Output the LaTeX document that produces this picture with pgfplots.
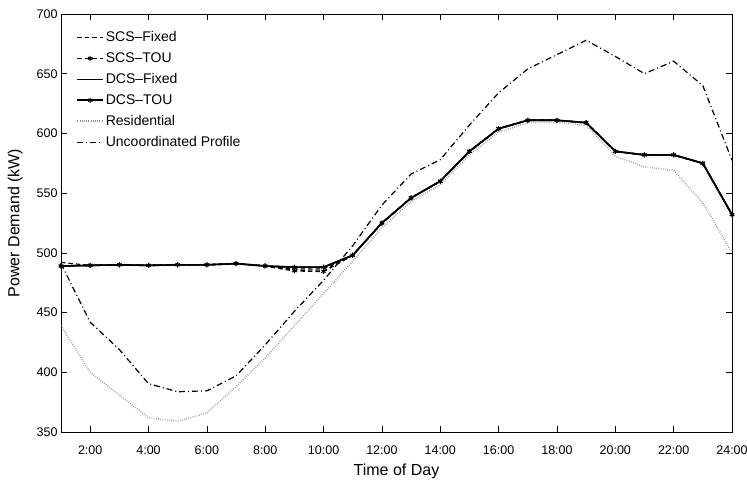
\documentclass[border=0pt]{standalone}
\usepackage{pgfplots}
\usepackage{pgfplotstable}
\pgfplotsset{compat=1.18}
\usepackage{fontspec}
\setmainfont{Liberation Sans}

% Hourly power demand (kW) for the charging schemes
\pgfplotstableread{
h  scsfix scstou dcsfix dcstou res   unc
1  492    489    489    489    439   491
2  489.5  489.5  489.5  489.5  400   442
3  490    490    490    490    381   419
4  489.5  489.5  489.5  489.5  362   390.5
5  490    490    490    490    359   383.7
6  490    490    490    490    366   384.5
7  491    491    491    491    388   397
8  489    489    489    489    412   423
9  486.5  485    488    488    439   451
10 486.5  484.5  488    488    466   477
11 498    498    498    498    493   506
12 525    525    525    525    521   540
13 546    546    546    546    543   566
14 560    560    560    560    557   578
15 585    585    585    585    582   607
16 604    604    604    604    601   634
17 611    611    611    611    609   654
18 611    611    611    611    609   666
19 609    609    609    609    607   678
20 585    585    585    585    581   664.5
21 582    582    582    582    572   650
22 582    582    582    582    569   660.5
23 575    575    575    575    542   640
24 532    532    532    532    500   577.5
}\demand

\begin{document}
\begin{tikzpicture}
\path[use as bounding box] (-61pt,-58pt) rectangle (686pt,432pt);
\begin{axis}[
  at={(0,0)}, anchor=south west,
  scale only axis,
  width=671pt, height=418pt,
  xmin=1, xmax=24, ymin=350, ymax=700,
  xtick={2,4,...,24},
  xticklabels={2:00,4:00,6:00,8:00,10:00,12:00,14:00,16:00,18:00,20:00,22:00,24:00},
  ytick={350,400,...,700},
  tick align=inside,
  major tick length=6pt,
  axis line style={line width=0.8pt},
  every tick/.style={black, line width=0.6pt},
  /pgf/number format/assume math mode=true,
  ticklabel style={font=\fontsize{12.5}{14}\selectfont},
  xticklabel style={yshift=-10pt},
  xlabel={Time of Day},
  ylabel={Power Demand (kW)},
  label style={font=\fontsize{16}{18}\selectfont},
  xlabel style={yshift=-3pt},
  ylabel style={yshift=7pt},
  legend cell align=left,
  legend style={at={(axis description cs:0.02,0.968)}, anchor=north west,
    draw=none, fill=none, font=\fontsize{14}{16}\selectfont,
    row sep=5.5pt, inner xsep=2pt},
  legend image code/.code={\draw[mark repeat=2,mark phase=2]
    plot coordinates {(0cm,0cm) (0.45cm,0cm) (0.9cm,0cm)};},
]
\addplot[black, line width=1.1pt, dash pattern=on 4.5pt off 3pt]
  table[x=h, y=scsfix] {\demand};
\addlegendentry{SCS--Fixed}
\addplot[black, line width=1.6pt, dash pattern=on 4.5pt off 3pt,
  mark=asterisk, mark size=2.5pt, mark options={solid, line width=1pt}]
  table[x=h, y=scstou] {\demand};
\addlegendentry{SCS--TOU}
\addplot[black, line width=1.6pt]
  table[x=h, y=dcsfix] {\demand};
\addlegendentry{DCS--Fixed}
\addplot[black, line width=1.6pt,
  mark=asterisk, mark size=2.5pt, mark options={solid, line width=1pt}]
  table[x=h, y=dcstou] {\demand};
\addlegendentry{DCS--TOU}
\addplot[black!45, line width=1.6pt, dash pattern=on 0.6pt off 1.6pt]
  table[x=h, y=res] {\demand};
\addlegendentry{Residential}
\addplot[black, line width=1.2pt, dash pattern=on 6pt off 3pt on 1pt off 3pt]
  table[x=h, y=unc] {\demand};
\addlegendentry{Uncoordinated Profile}
\end{axis}
\end{tikzpicture}
\end{document}
